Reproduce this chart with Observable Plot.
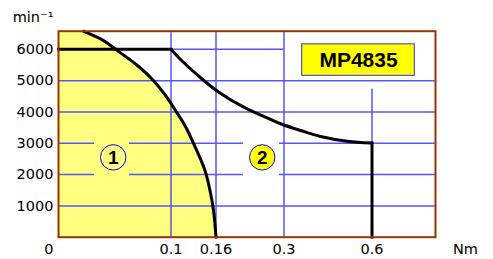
<!DOCTYPE html>
<html><head><meta charset="utf-8">
<script src="https://cdn.jsdelivr.net/npm/d3@7"></script>
<script src="https://cdn.jsdelivr.net/npm/@observablehq/plot@0.6"></script>
<style>html,body{margin:0;padding:0;background:#fff;}</style>
</head><body><div id="chart"></div>
<script>
// ---- data ----
const xTicks = [0.1, 0.16, 0.3, 0.6];
const xTickLabels = ["0.1", "0.16", "0.3", "0.6"];
const yTicks = [1000, 2000, 3000, 4000, 5000, 6000];
const yTickLabels = ["1000", "2000", "3000", "4000", "5000", "6000"];
// continuous duty curve (zone 1 boundary)
const curve1Torque = [0.0220, 0.0400, 0.0524, 0.0702, 0.0844, 0.0951, 0.1060, 0.1193, 0.1313, 0.1453, 0.1520, 0.1567, 0.1600];
const curve1Speed  = [6580, 6280, 5960, 5485, 5006, 4527, 4048, 3537, 2930, 2131, 1492, 853, 0];
// peak torque curve (zone 2 boundary)
const curve2Torque = [0, 0.1, 0.1127, 0.1437, 0.1658, 0.2172, 0.2722, 0.2928, 0.3563, 0.4244, 0.5155, 0.6, 0.6];
const curve2Speed  = [6000, 6000, 5677, 5006, 4632, 4153, 3761, 3623, 3409, 3217, 3067, 3010, 0];
const zoneLabels = ["1", "2"];
const modelName = "MP4835";
const xUnit = "Nm";
const yUnit = "min⁻¹";

// ---- layout ----
const W = 493, H = 259;
// the torque axis is drawn piecewise: each tick interval has its own width
const xBreaks = [0, 0.1, 0.16, 0.3, 0.6, 0.8];
const xBreakPos = [0, 112.5, 157.5, 225.5, 313.5, 377];
const xPiecewise = d3.scaleLinear().domain(xBreaks).range(xBreakPos);
const yDomain = [0, 6580];
const zonePos = [{x: 0.0486, y: 2550}, {x: 0.2551, y: 2550}];
const gapSegments = [[0, 0.032], [0.063, 0.2166], [0.2907, 0.8]];
const boxPos = {x1: 0.362, x2: 0.7348, y1: 5155, y2: 6161};
const grid06Top = 4730;

const c1 = curve1Torque.map((t, i) => ({t, s: curve1Speed[i]}));
const c2 = curve2Torque.map((t, i) => ({t, s: curve2Speed[i]}));
const n2 = c2.length;
const zones = zoneLabels.map((l, i) => ({label: l, ...zonePos[i]}));
const segs = [];
for (const y of [2000, 3000]) for (const [a, b] of gapSegments) segs.push({y, x1: a, x2: b});

const vBlue = "#0000ff", hBlue = "#5555ff";
const font = "DejaVu Sans";
const lineStyle = {x: "t", y: "s", stroke: "#000", strokeWidth: 3};

const chart = Plot.plot({
  width: W, height: H,
  marginLeft: 58, marginRight: 58, marginTop: 30.7, marginBottom: 22.3,
  style: {fontFamily: font, fontSize: "14.5px", background: "#fff", overflow: "visible"},
  x: {transform: d => xPiecewise(d), domain: [0, 377], axis: null},
  y: {domain: yDomain, axis: null},
  marks: [
    Plot.areaX(c1, {y: "s", x1: () => 0, x2: "t", fill: "#ffff80", curve: "catmull-rom"}),
    // vertical grid
    Plot.ruleX(xTicks.slice(0, 3), {stroke: vBlue, strokeWidth: 1}),
    Plot.ruleX([0.6], {y1: 0, y2: grid06Top, stroke: vBlue, strokeWidth: 1}),
    // horizontal grid
    Plot.ruleY([1000, 4000, 5000], {stroke: hBlue, strokeWidth: 1.5}),
    Plot.ruleY([6000], {x1: () => 0, x2: () => 0.3, stroke: hBlue, strokeWidth: 1.5}),
    Plot.ruleY(segs, {y: "y", x1: "x1", x2: "x2", stroke: hBlue, strokeWidth: 1.5}),
    // curves
    Plot.line(c1, {...lineStyle, curve: "catmull-rom"}),
    Plot.line(c2.slice(0, 2), {...lineStyle, strokeLinecap: "square"}),
    Plot.line(c2.slice(1, n2 - 1), {...lineStyle, curve: "catmull-rom"}),
    Plot.line(c2.slice(n2 - 2), {...lineStyle, strokeLinecap: "square"}),
    Plot.frame({stroke: "#993300", strokeWidth: 2}),
    // zone markers
    Plot.dot([zones[0]], {x: "x", y: "y", r: 12.7, stroke: vBlue, strokeWidth: 1, fill: "none"}),
    Plot.dot([zones[1]], {x: "x", y: "y", r: 12.7, stroke: vBlue, strokeWidth: 1, fill: "#ffff00"}),
    Plot.text(zones, {x: "x", y: "y", text: "label", fontFamily: "Liberation Sans", fontWeight: "bold", fontSize: 19, fill: "#000", dy: 1}),
    // model box
    Plot.rect([boxPos], {x1: "x1", x2: "x2", y1: "y1", y2: "y2", fill: "#ffff00", stroke: "#3333dd", strokeWidth: 1}),
    Plot.text([boxPos], {x: d => xPiecewise.invert((xPiecewise(d.x1) + xPiecewise(d.x2)) / 2), y: d => (d.y1 + d.y2) / 2, text: () => modelName, fontFamily: "Liberation Sans", fontWeight: "bold", fontSize: 21, fill: "#000"}),
    // tick labels
    Plot.text(yTicks, {x: () => 0, y: d => d, text: (d, i) => yTickLabels[i], textAnchor: "end", dx: -5, fill: "#000"}),
    Plot.text(xTicks, {x: d => d, y: () => 0, text: (d, i) => xTickLabels[i], dy: 12, fill: "#000"}),
    Plot.text(["0"], {x: () => 0, y: () => 0, text: d => d, textAnchor: "end", dx: -5, dy: 12, fill: "#000"}),
    Plot.text([xUnit], {frameAnchor: "bottom-right", text: d => d, textAnchor: "middle", lineAnchor: "middle", dx: 30, dy: 12, fill: "#000"}),
    Plot.text([yUnit], {frameAnchor: "top-left", text: d => d, textAnchor: "end", lineAnchor: "middle", dx: -5, dy: -13.5, fill: "#000"})
  ]
});
document.getElementById("chart").appendChild(chart);
</script>
</body></html>
